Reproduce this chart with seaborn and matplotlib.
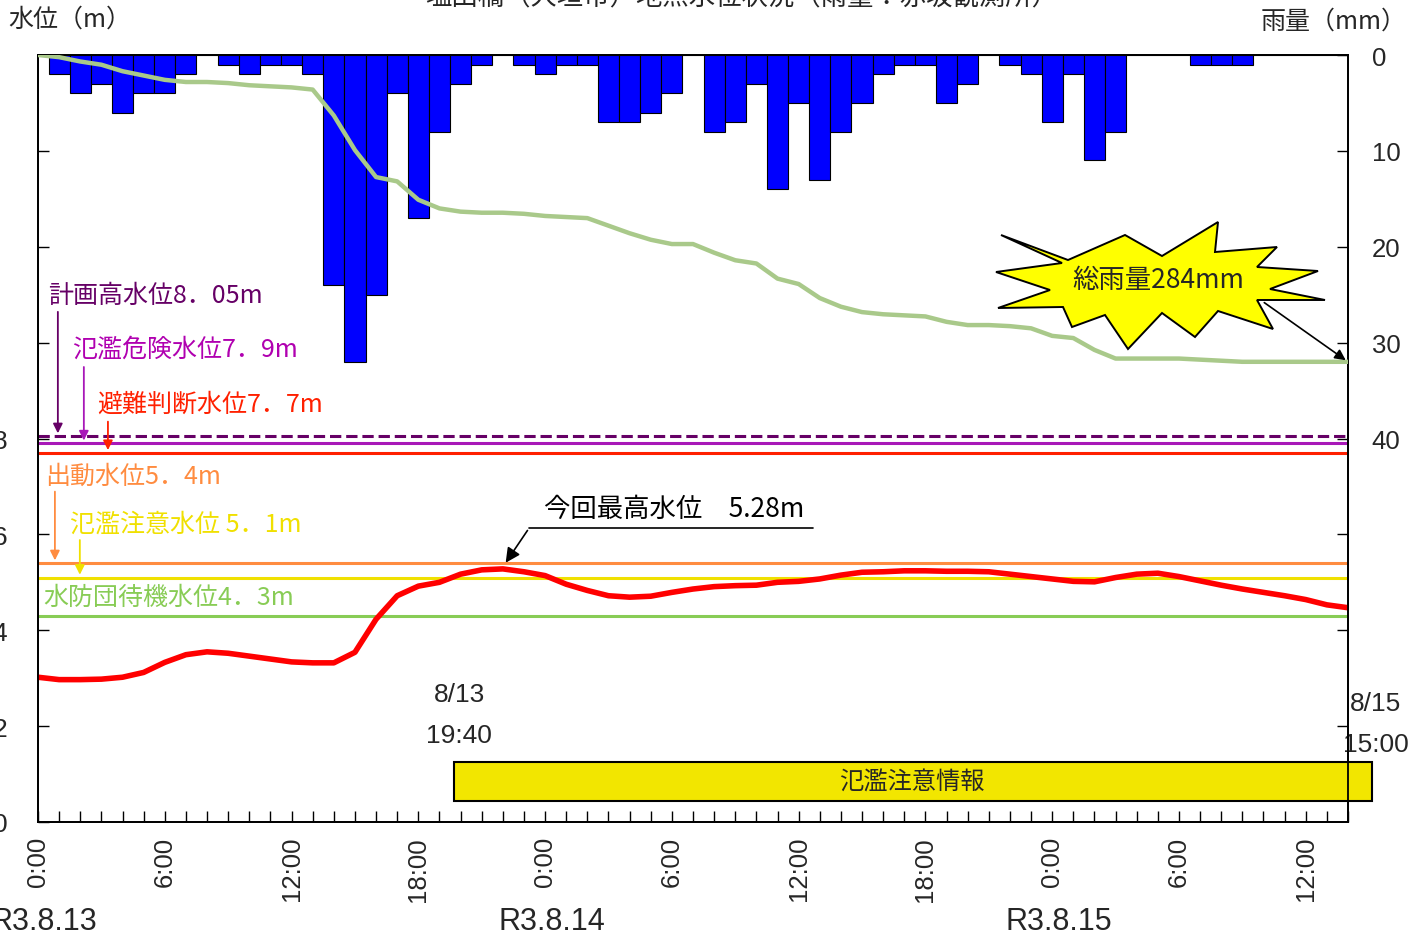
import numpy as np
import pandas as pd
import matplotlib
matplotlib.use("Agg")
import matplotlib.pyplot as plt
import seaborn as sns
from matplotlib.patches import Polygon, Rectangle
from matplotlib import font_manager

# Hourly data, 0:00 R3.8.13 -> 14:00 R3.8.15
hours = np.arange(0, 63)
water_level = [3.02, 2.97, 2.97, 2.98, 3.02, 3.12, 3.33, 3.49, 3.55, 3.52,
               3.46, 3.40, 3.34, 3.32, 3.32, 3.54, 4.23, 4.72, 4.92, 5.00,
               5.17, 5.26, 5.28, 5.22, 5.14, 4.96, 4.83, 4.72, 4.69, 4.71,
               4.79, 4.86, 4.91, 4.93, 4.94, 5.00, 5.02, 5.07, 5.15, 5.21,
               5.22, 5.24, 5.24, 5.23, 5.23, 5.22, 5.17, 5.12, 5.07, 5.02,
               5.01, 5.10, 5.17, 5.19, 5.12, 5.03, 4.94, 4.86, 4.79, 4.72,
               4.64, 4.53, 4.47]

# rain for the hour ending at each hour mark (mm)
rain_hours = np.arange(1, 63)
rain = [2, 4, 3, 6, 4, 4, 2, 0, 1, 2,
        1, 1, 2, 24, 32, 25, 4, 17, 8, 3,
        1, 0, 1, 2, 1, 1, 7, 7, 6, 4,
        0, 8, 7, 3, 14, 5, 13, 8, 5, 2,
        1, 1, 5, 3, 0, 1, 2, 7, 2, 11,
        8, 0, 0, 0, 1, 1, 1, 0, 0, 0, 0, 0]
cum_rain = np.concatenate([[0], np.cumsum(rain)])

# reference levels (m)
levels = [
    ("計画高水位8．05m", 8.05, "#660066", "--"),
    ("氾濫危険水位7．9m", 7.9, "#A818B8", "-"),
    ("避難判断水位7．7m", 7.7, "#FF2000", "-"),
    ("出動水位5．4m", 5.4, "#FF8C40", "-"),
    ("氾濫注意水位 5．1m", 5.1, "#F0E000", "-"),
    ("水防団待機水位4．3m", 4.3, "#88CC55", "-"),
]

alert_start = 19 + 40 / 60
alert_end = 63
peak_hour = 22
peak_level = 5.28
total_rain = 284

xtick_pos = np.arange(0, 61, 6)
xtick_labels = ["0:00", "6:00", "12:00", "18:00",
                "0:00", "6:00", "12:00", "18:00",
                "0:00", "6:00", "12:00"]
date_labels = ["R3.8.13", "R3.8.14", "R3.8.15"]

sns.set_theme(style="white")
plt.rcParams["font.family"] = ["Liberation Sans", "Noto Sans CJK JP", "DejaVu Sans"]
names = {f.name for f in font_manager.fontManager.ttflist}
narrow = "Liberation Sans Narrow" if "Liberation Sans Narrow" in names else "Liberation Sans"
jp = ["Noto Sans CJK JP", "DejaVu Sans"]

fig = plt.figure(figsize=(14.12, 9.37), dpi=100)
ax = fig.add_axes([38 / 1412, 1 - 823 / 937, 1310 / 1412, 767 / 937])
ax2 = ax.twinx()
ax3 = ax.twinx()

# water level and reference lines
for name, lv, col, ls in levels:
    ax.axhline(lv, color=col, lw=2.2, ls=ls, zorder=2)
sns.lineplot(x=hours, y=water_level, ax=ax, color="#FF0000", lw=4.0, zorder=4)

# hourly rain bars (inverted right axis)
sns.barplot(x=rain_hours, y=rain, ax=ax2, native_scale=True, width=1,
            color="#0000FF", saturation=1, edgecolor="black", linewidth=0.8)
ax2.set_ylim(80, 0)

# cumulative rain (hidden axis)
sns.lineplot(x=hours, y=cum_rain, ax=ax3, color="#A9C98A", lw=3.2)
ax3.set_ylim(710, 0)
ax3.set_axis_off()

ax.set_xlim(0, 62)
ax.set_ylim(0, 16)
ax.set_xlabel("")
ax.set_ylabel("")
ax2.set_xlabel("")
ax2.set_ylabel("")

ax.set_xticks(xtick_pos)
ax.set_xticklabels(xtick_labels, rotation=90, fontsize=18.5)
ax.set_xticks(np.arange(0, 63, 1), minor=True)
ax.set_yticks(np.arange(0, 16, 2))
ax.set_yticklabels(["0", "2", "4", "6", "8", "", "", ""], fontsize=19)
ax.tick_params(axis="x", which="both", direction="in", length=8, width=1, color="black", pad=10, bottom=True)
ax.tick_params(axis="y", direction="in", length=8, width=1, color="black", pad=22, left=True)
ax2.set_yticks(np.arange(0, 80, 10))
ax2.set_yticklabels(["0", "10", "20", "30", "40", "", "", ""], fontsize=18.5)
ax2.tick_params(axis="y", direction="in", length=8, width=1, color="black", pad=17, right=True)
for a in (ax, ax2):
    for s in a.spines.values():
        s.set_color("black")
        s.set_linewidth(1.3)

# level labels with arrows
label_pos = [(0.47, 11.0, 0.94, 10.7), (1.6, 9.87, 2.17, 9.55), (2.79, 8.72, 3.31, 8.41),
             (0.33, 7.22, 0.8, 6.95), (1.51, 6.22, 1.98, 5.94), (0.24, 4.69, None, None)]
for (name, lv, col, ls), (tx, ty, axx, ay) in zip(levels, label_pos):
    txtcol = "#B000B0" if lv == 7.9 else col
    ax.text(tx, ty, name, color=txtcol, fontsize=18, family=jp, ha="left", va="center")
    if axx is not None:
        ax.annotate("", xy=(axx, lv), xytext=(axx, ay),
                    arrowprops=dict(arrowstyle="-|>", color=col, lw=1.3, mutation_scale=14))

# peak annotation
ax.text(23.95, 6.53, "今回最高水位　5.28m", fontsize=19, family=jp, ha="left", va="center", color="black")
ax.plot([23.24, 36.7], [6.13, 6.13], color="black", lw=1.2)
ax.annotate("", xy=(peak_hour + 0.06, peak_level + 0.08), xytext=(23.24, 6.13),
            arrowprops=dict(arrowstyle="-|>", color="black", lw=1.2, mutation_scale=22))

# alert period
ax.add_patch(Rectangle((alert_start, 0.44), alert_end + 0.15 - alert_start, 0.81, facecolor="#F2E600",
                       edgecolor="black", lw=1.5, clip_on=False, zorder=5))
ax.text((alert_start + alert_end) / 2, 0.85, "氾濫注意情報", fontsize=17.5, family=jp,
        ha="center", va="center", zorder=6)
ax.text(alert_start + 0.27, 2.67, "8/13", fontsize=19, ha="center", va="center")
ax.text(alert_start + 0.27, 1.81, "19:40", fontsize=19, ha="center", va="center")
ax.text(alert_end + 0.3, 2.48, "8/15", fontsize=19, ha="center", va="center")
ax.text(alert_end + 0.3, 1.63, "15:00", fontsize=19, ha="center", va="center")

# date labels
for i, d in enumerate(date_labels):
    ax.text(i * 24 + 0.3, -0.129, d, transform=ax.get_xaxis_transform(), fontsize=22,
            family=[narrow, "DejaVu Sans"], ha="center", va="center")

# star burst for total rain
star_px = [(1001, 236), (1068, 261), (1125, 236), (1162, 257), (1218, 223), (1215, 253),
           (1277, 248), (1257, 268), (1318, 272), (1270, 290), (1325, 301), (1257, 301),
           (1273, 330), (1218, 312), (1195, 338), (1162, 314), (1128, 350), (1105, 316),
           (1072, 328), (1063, 308), (998, 309), (1050, 291), (996, 273), (1062, 264)]
star = Polygon([(x / 1412, 1 - y / 937) for x, y in star_px], closed=True,
               transform=fig.transFigure, facecolor="#FFFF00", edgecolor="black", lw=1.4)
fig.patches.append(star)
fig.text(1158 / 1412, 1 - 281 / 937, f"総雨量{total_rain}mm", fontsize=19, family=jp,
         ha="center", va="center")
ax3.annotate("", xy=(62, cum_rain[-1]), xytext=(1262, 937 - 302), textcoords="figure pixels",
             arrowprops=dict(arrowstyle="-|>", color="black", lw=1.2, mutation_scale=16))

# axis titles and (cut off) chart title
fig.text(8 / 1412, 1 - 20 / 937, "水位（m）", fontsize=18, family=jp, ha="left", va="center")
fig.text(1407 / 1412, 1 - 22 / 937, "雨量（mm）", fontsize=18, family=jp, ha="right", va="center")
fig.text(742 / 1412, 1 + 2 / 937, "塩田橋（大垣市）地点水位状況（雨量：赤坂観測所）",
         fontsize=19, family=jp, ha="center", va="center")

fig.savefig("out.png", dpi=100)
